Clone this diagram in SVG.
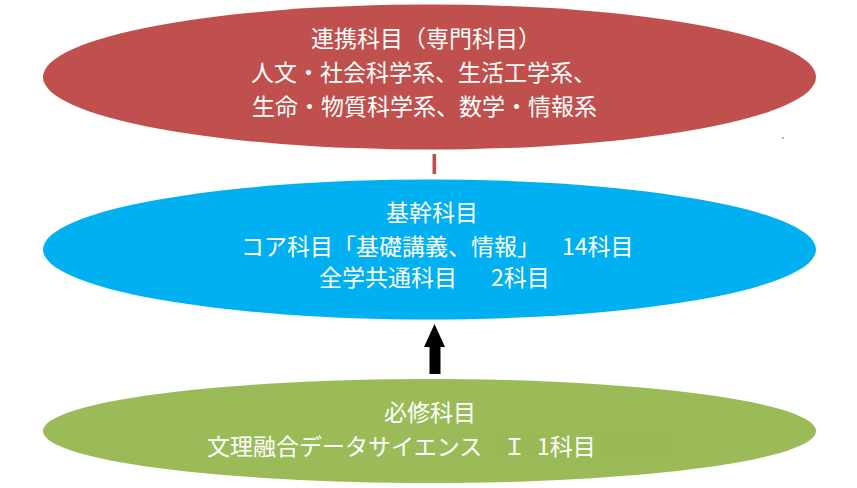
<svg xmlns="http://www.w3.org/2000/svg" width="857" height="488" viewBox="0 0 857 488">
<style>
.t{font-family:"Noto Sans CJK JP","Noto Sans CJK SC",sans-serif;font-size:23px;fill:#ffffff;}
.s{font-family:"Liberation Serif","Noto Sans CJK JP",serif;}
</style>
<rect x="0" y="0" width="857" height="488" fill="#ffffff"/>
<g id="connectors">
<rect x="432.5" y="154" width="3.6" height="20" fill="#C0504D"/>
<polygon points="434.5,324 445,347 440.5,347 440.5,374 429.5,374 429.5,347 424,347" fill="#000000"/>
</g>
<g id="node-renkei">
<ellipse cx="429.5" cy="77" rx="386.5" ry="72.5" fill="#C0504D"/>
<text class="t" x="311" y="47">連携科目（専門科目）</text>
<text class="t" x="251" y="81">人文・社会科学系、生活工学系、</text>
<text class="t" x="252" y="115">生命・物質科学系、数学・情報系</text>
</g>
<g id="node-kikan">
<ellipse cx="429.5" cy="249.5" rx="386.5" ry="70" fill="#00B0F0"/>
<text class="t" x="386" y="221">基幹科目</text>
<text class="t" y="255"><tspan x="241">コア科目「基礎講義、情報」</tspan><tspan x="562">14科目</tspan></text>
<text class="t" y="286"><tspan x="319">全学共通科目</tspan><tspan x="491">2科目</tspan></text>
</g>
<g id="node-hisshu">
<ellipse cx="429.5" cy="431" rx="386.5" ry="52" fill="#9BBB59"/>
<rect x="493" y="428" width="180" height="35" fill="#99BA57"/>
<text class="t" x="384" y="421">必修科目</text>
<text class="t" y="455"><tspan x="207">文理融合データサイエンス</tspan><tspan class="s" x="503">Ｉ</tspan><tspan x="537">1科目</tspan></text>
</g>
<circle cx="783" cy="138" r="0.8" fill="#555555"/>
</svg>
